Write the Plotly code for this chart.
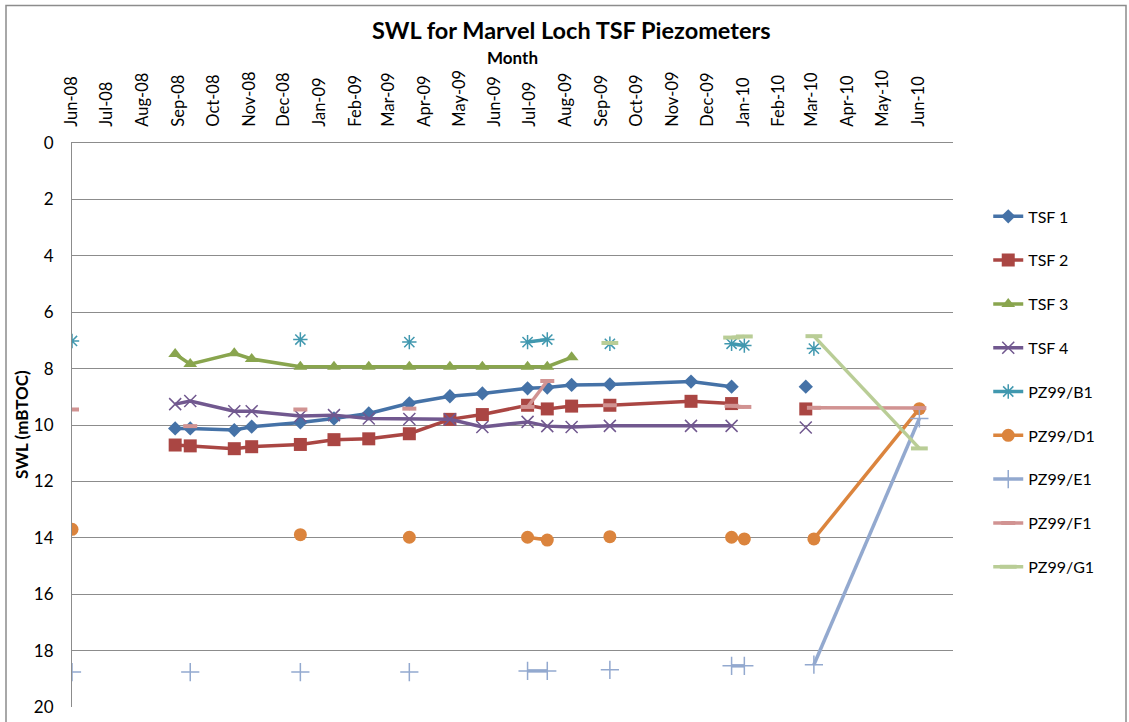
import plotly.graph_objects as go

# Sampling dates (union of all series)
dates = ["2008-06-01", "2008-08-29", "2008-09-11", "2008-10-19", "2008-11-03",
         "2008-12-15", "2009-01-13", "2009-02-12", "2009-03-19", "2009-04-23",
         "2009-05-21", "2009-06-29", "2009-07-16", "2009-08-06", "2009-09-08",
         "2009-11-17", "2009-12-22", "2010-01-02", "2010-02-24", "2010-03-03",
         "2010-06-02"]

N = None
tsf1 = [N, 10.12, 10.12, 10.18, 10.06, 9.91, 9.77, 9.59, 9.23, 8.98, 8.88, 8.70, 8.67, 8.58, 8.56, 8.46, 8.64, N, 8.64, N, N]
tsf2 = [N, 10.71, 10.74, 10.84, 10.77, 10.69, 10.52, 10.49, 10.31, 9.80, 9.63, 9.30, 9.43, 9.33, 9.30, 9.16, 9.24, N, 9.43, N, N]
tsf3 = [N, 7.48, 7.84, 7.46, 7.66, 7.93, 7.93, 7.93, 7.93, 7.93, 7.93, 7.93, 7.93, 7.60, N, N, N, N, N, N, N]
tsf4 = [N, 9.26, 9.15, 9.51, 9.51, 9.68, 9.65, 9.77, 9.79, 9.80, 10.07, 9.89, 10.04, 10.07, 10.03, 10.03, 10.03, N, 10.09, N, N]
pz_b1 = [7.02, N, N, N, N, 6.97, N, N, 7.06, N, N, 7.06, 6.97, N, 7.12, N, 7.12, 7.18, N, 7.29, N]
pz_d1 = [13.70, N, N, N, N, 13.89, N, N, 13.98, N, N, 13.98, 14.08, N, 13.96, N, 13.98, 14.04, N, 14.04, 9.42]
pz_e1 = [18.76, N, 18.76, N, N, 18.76, N, N, 18.76, N, N, 18.72, 18.72, N, 18.68, N, 18.54, 18.54, N, 18.50, 9.77]
pz_f1 = [9.45, N, 10.04, N, N, 9.45, N, N, 9.42, N, N, 9.36, 8.44, N, 9.30, N, 9.32, 9.36, N, 9.39, 9.40]
pz_g1 = [N, N, N, N, N, N, N, N, N, N, N, N, N, N, 7.09, N, 6.90, 6.86, N, 6.85, 10.83]

tick_dates = ["2008-06-01", "2008-07-01", "2008-08-01", "2008-09-01", "2008-10-01",
              "2008-11-01", "2008-12-01", "2009-01-01", "2009-02-01", "2009-03-01",
              "2009-04-01", "2009-05-01", "2009-06-01", "2009-07-01", "2009-08-01",
              "2009-09-01", "2009-10-01", "2009-11-01", "2009-12-01", "2010-01-01",
              "2010-02-01", "2010-03-01", "2010-04-01", "2010-05-01", "2010-06-01"]
tick_labels = ["Jun-08", "Jul-08", "Aug-08", "Sep-08", "Oct-08", "Nov-08", "Dec-08",
               "Jan-09", "Feb-09", "Mar-09", "Apr-09", "May-09", "Jun-09", "Jul-09",
               "Aug-09", "Sep-09", "Oct-09", "Nov-09", "Dec-09", "Jan-10", "Feb-10",
               "Mar-10", "Apr-10", "May-10", "Jun-10"]

names = ["TSF 1", "TSF 2", "TSF 3", "TSF 4", "PZ99/B1", "PZ99/D1", "PZ99/E1", "PZ99/F1", "PZ99/G1"]
values = [tsf1, tsf2, tsf3, tsf4, pz_b1, pz_d1, pz_e1, pz_f1, pz_g1]
colors = ["#4572A7", "#AA4643", "#89A54E", "#71588F", "#4198AF", "#DB843D", "#93A9CF", "#D19392", "#B9CD96"]
symbols = ["diamond", "square", "triangle-up", "x-thin-open", "asterisk-open", "circle",
           "cross-thin-open", "line-ew-open", "line-ew-open"]
sizes = [11, 13, 12, 12, 12, 13, 13, 10, 12]
mline = [0, 0, 0, 1.5, 1.5, 0, 1.5, 4, 4]

FONT = "Lato"
fig = go.Figure()
for nm, v, c, s, sz, lw in zip(names, values, colors, symbols, sizes, mline):
    fig.add_trace(go.Scatter(
        x=dates, y=v, name=nm, mode="lines+markers", connectgaps=False,
        legendgroup=nm,
        line=dict(color=c, width=3.5),
        marker=dict(symbol=s, size=sz, color=c, line=dict(color=c, width=lw)),
    ))

grid = "#8c8c8c"
fig.update_layout(
    width=1129, height=722,
    margin=dict(l=72, r=176, t=143, b=15, autoexpand=False),
    paper_bgcolor="white", plot_bgcolor="white",
    font=dict(family=FONT, size=16, color="black"),
    title=dict(text="<b>SWL for Marvel Loch TSF Piezometers</b>", x=0.506, xanchor="center",
               xref="container", y=0.957, yanchor="middle", yref="container",
               font=dict(family=FONT, size=23.5, color="black")),
    showlegend=True,
    legend=dict(x=1.04, xanchor="left", y=0.90, yanchor="top", tracegroupgap=20,
                font=dict(family=FONT, size=16, color="black"), bgcolor="rgba(0,0,0,0)"),
    xaxis=dict(type="date", range=["2008-06-01", "2010-07-01"], side="top", automargin=False,
               tickmode="array", tickvals=tick_dates, ticktext=tick_labels, tickangle=-90,
               showgrid=False, showline=True, linecolor=grid, linewidth=1, ticks="",
               ticklabelstandoff=12, zeroline=False,
               tickfont=dict(family=FONT, size=16.5, color="black"),
               title=dict(text="<b>Month</b>", standoff=0, font=dict(family=FONT, size=17, color="black"))),
    yaxis=dict(range=[20, 0], dtick=2, tick0=0, showgrid=True, gridcolor=grid, gridwidth=1,
               showline=True, linecolor=grid, linewidth=1, ticks="", zeroline=False,
               ticklabelstandoff=14, automargin=False,
               tickfont=dict(family=FONT, size=17, color="black")),
    annotations=[dict(text="<b>SWL (mBTOC)</b>", textangle=-90, xref="paper", yref="paper",
                      x=(21 - 72) / 881, y=0.5, xanchor="center", yanchor="middle",
                      showarrow=False, font=dict(family=FONT, size=17, color="black"))],
    shapes=[dict(type="rect", xref="paper", yref="paper",
                 x0=(6 - 72) / 881, x1=(1126 - 72) / 881,
                 y0=(707.3 - 740) / 564.7, y1=(707.3 - 5) / 564.7,
                 line=dict(color=grid, width=1.5), fillcolor="rgba(0,0,0,0)", layer="below")],
)

fig.write_html("out.html", config={"displayModeBar": False},
               post_script="document.body.style.margin='0px';")
